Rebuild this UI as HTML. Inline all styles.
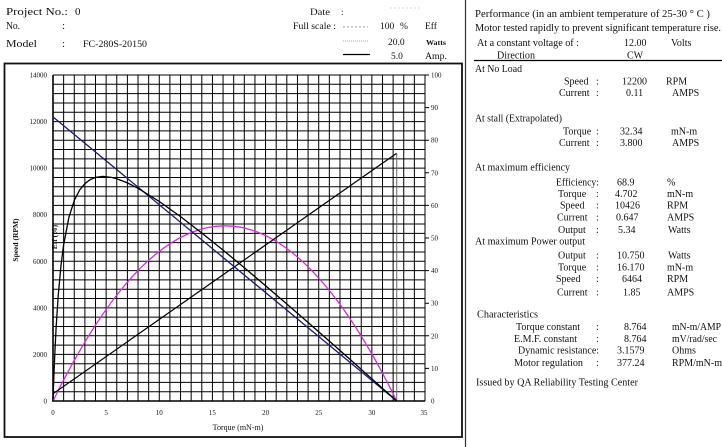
<!DOCTYPE html>
<html><head><meta charset="utf-8"><style>
html,body{margin:0;padding:0;background:#fff;}
svg{display:block;}
text{font-family:"Liberation Serif",serif;fill:#111;}
.s{font-size:10px;}
.t{font-size:7px;fill:#222;}
</style></head><body>
<svg width="722" height="447" viewBox="0 0 722 447" xmlns="http://www.w3.org/2000/svg">
<rect width="722" height="447" fill="#fff"/>
<!-- Header -->
<text x="6" y="15" font-size="11" textLength="62" lengthAdjust="spacingAndGlyphs">Project No.:</text>
<text x="75" y="15" font-size="11">0</text>
<text x="6" y="29" font-size="11" textLength="14" lengthAdjust="spacingAndGlyphs">No.</text>
<text x="62" y="29" font-size="11">:</text>
<text x="6" y="47" font-size="11" textLength="31" lengthAdjust="spacingAndGlyphs">Model</text>
<text x="62" y="47" font-size="11">:</text>
<text x="83" y="47" font-size="9.5" textLength="64" lengthAdjust="spacingAndGlyphs">FC-280S-20150</text>
<text x="310" y="15" font-size="9" textLength="20" lengthAdjust="spacingAndGlyphs">Date</text>
<text x="341" y="15" font-size="9">:</text>
<line x1="390" y1="8" x2="420" y2="8" stroke="#ddd" stroke-width="1" stroke-dasharray="2,2"/>
<text x="293" y="29" font-size="9" textLength="43" lengthAdjust="spacingAndGlyphs">Full scale :</text>
<line x1="343" y1="27" x2="368" y2="27" stroke="#999" stroke-width="1" stroke-dasharray="2,2"/>
<text x="380" y="29" font-size="9.5">100</text>
<text x="400" y="29" font-size="9.5">%</text>
<text x="425" y="29" font-size="9.5">Eff</text>
<line x1="343" y1="41" x2="368" y2="41" stroke="#aab" stroke-width="1" stroke-dasharray="1,1"/>
<text x="388" y="45" font-size="9.5">20.0</text>
<text x="426" y="45" font-size="7" font-weight="bold" textLength="20" lengthAdjust="spacingAndGlyphs">Watts</text>
<line x1="343" y1="54.5" x2="370" y2="54.5" stroke="#000" stroke-width="1.3"/>
<text x="391" y="59" font-size="9.5">5.0</text>
<text x="425" y="59" font-size="9.5" textLength="22" lengthAdjust="spacingAndGlyphs">Amp.</text>

<!-- separator -->
<line x1="465.5" y1="0" x2="465.5" y2="447" stroke="#333" stroke-width="1.2"/>
<!-- chart frame -->
<rect x="4.5" y="63.5" width="457.5" height="373.5" fill="none" stroke="#111" stroke-width="1.8"/>

<!-- grid -->
<g stroke="#000" stroke-width="1" fill="none">
<path d="M63.63 75V401M74.26 75V401M84.89 75V401M95.51 75V401M106.14 75V401M116.77 75V401M127.4 75V401M138.03 75V401M148.66 75V401M159.29 75V401M169.91 75V401M180.54 75V401M191.17 75V401M201.8 75V401M212.43 75V401M223.06 75V401M233.69 75V401M244.31 75V401M254.94 75V401M265.57 75V401M276.2 75V401M286.83 75V401M297.46 75V401M308.09 75V401M318.71 75V401M329.34 75V401M339.97 75V401M350.6 75V401M361.23 75V401M371.86 75V401M382.49 75V401M393.11 75V401M403.74 75V401M414.37 75V401M425 75V401"/>
<path d="M53 391.69H425M53 382.37H425M53 373.06H425M53 363.74H425M53 354.43H425M53 345.11H425M53 335.8H425M53 326.49H425M53 317.17H425M53 307.86H425M53 298.54H425M53 289.23H425M53 279.91H425M53 270.6H425M53 261.29H425M53 251.97H425M53 242.66H425M53 233.34H425M53 224.03H425M53 214.71H425M53 205.4H425M53 196.09H425M53 186.77H425M53 177.46H425M53 168.14H425M53 158.83H425M53 149.51H425M53 140.2H425M53 130.89H425M53 121.57H425M53 112.26H425M53 102.94H425M53 93.63H425M53 84.31H425M53 75H425"/>
</g>
<line x1="53" y1="75" x2="53" y2="401.5" stroke="#000" stroke-width="1.6"/>
<line x1="52" y1="401" x2="425" y2="401" stroke="#000" stroke-width="1.6"/>
<!-- right ticks -->
<g stroke="#000" stroke-width="1">
<path d="M425 368.4H429M425 335.8H429M425 303.2H429M425 270.6H429M425 238H429M425 205.4H429M425 172.8H429M425 140.2H429M425 107.6H429M425 75H429"/>
</g>

<!-- left tick labels -->
<g class="t" text-anchor="end">
<text x="47" y="403.5">0</text>
<text x="47" y="357">2000</text>
<text x="47" y="310.4">4000</text>
<text x="47" y="263.8">6000</text>
<text x="47" y="217.2">8000</text>
<text x="47" y="170.6">10000</text>
<text x="47" y="124">12000</text>
<text x="47" y="77.5">14000</text>
</g>
<!-- right tick labels -->
<g class="t">
<text x="431" y="403.5">0</text>
<text x="431" y="371">10</text>
<text x="431" y="338.3">20</text>
<text x="431" y="305.7">30</text>
<text x="431" y="273.1">40</text>
<text x="431" y="240.5">50</text>
<text x="431" y="207.9">60</text>
<text x="431" y="175.3">70</text>
<text x="431" y="142.7">80</text>
<text x="431" y="110.1">90</text>
<text x="431" y="77.5">100</text>
</g>
<!-- x tick labels -->
<g class="t" text-anchor="middle">
<text x="53" y="415">0</text>
<text x="106.1" y="415">5</text>
<text x="159.3" y="415">10</text>
<text x="212.4" y="415">15</text>
<text x="265.6" y="415">20</text>
<text x="318.7" y="415">25</text>
<text x="371.9" y="415">30</text>
<text x="424" y="415">35</text>
</g>
<text x="238" y="430" font-size="8" text-anchor="middle" fill="#222">Torque (mN-m)</text>
<text transform="translate(18,240) rotate(-90)" font-size="7.5" font-weight="bold" text-anchor="middle">Speed (RPM)</text>
<text transform="translate(57,237) rotate(-90)" font-size="7.5" font-weight="bold" text-anchor="middle">Eff (%)</text>

<!-- series -->
<!-- power (magenta) -->
<path d="M53 401 Q224.87 50.6 396.73 401" fill="none" stroke="#d52ed5" stroke-width="1.3"/>
<!-- current -->
<line x1="53" y1="393.8" x2="396.73" y2="153.2" stroke="#000" stroke-width="1.2"/>
<line x1="396.73" y1="153.2" x2="396.73" y2="401" stroke="#666" stroke-width="1"/>
<!-- speed -->
<line x1="53" y1="116.9" x2="396.73" y2="401" stroke="#1c1c78" stroke-width="1.3"/>
<!-- efficiency -->
<polyline fill="none" stroke="#000" stroke-width="1.3" points="53,401 54.06,371.3 55.13,346.9 56.19,326.5 58.31,294.5 60.97,265.6 63.63,244.7 68.94,217.2 74.26,200.5 79.57,190.1 84.89,183.6 90.2,179.6 95.51,177.4 102.96,176.4 111.46,177.4 116.77,178.8 127.4,182.9 138.03,188.3 159.29,201.5 180.54,216.6 201.8,233 223.06,250.1 244.31,267.7 265.57,285.7 286.83,304 308.09,322.5 329.34,341.1 350.6,359.9 371.86,378.8 396.73,401"/>

<!-- Right panel -->
<g class="s">
<text x="475" y="17" textLength="235" lengthAdjust="spacingAndGlyphs">Performance (in an ambient temperature of 25-30 ° C )</text>
<text x="475" y="31" textLength="246" lengthAdjust="spacingAndGlyphs">Motor tested rapidly to prevent significant temperature rise.</text>
<text x="477" y="46" textLength="102" lengthAdjust="spacingAndGlyphs">At a constant voltage of :</text>
<text x="624" y="46">12.00</text>
<text x="671" y="46">Volts</text>
<text x="497" y="58.5" textLength="38" lengthAdjust="spacingAndGlyphs">Direction</text>
<text x="627" y="58.5">CW</text>
</g>
<line x1="474" y1="60.5" x2="722" y2="60.5" stroke="#000" stroke-width="1.2"/>
<g class="s">
<text x="475" y="72" textLength="47" lengthAdjust="spacingAndGlyphs">At No Load</text>
<text x="564" y="84.5">Speed</text><text x="596" y="84.5">:</text><text x="622" y="84.5">12200</text><text x="666" y="84.5">RPM</text>
<text x="559" y="96">Current</text><text x="596" y="96">:</text><text x="626" y="96">0.11</text><text x="672" y="96">AMPS</text>

<text x="475" y="121.5" textLength="87" lengthAdjust="spacingAndGlyphs">At stall (Extrapolated)</text>
<text x="563" y="134.5">Torque</text><text x="596" y="134.5">:</text><text x="620" y="134.5">32.34</text><text x="671" y="134.5">mN-m</text>
<text x="559" y="146">Current</text><text x="596" y="146">:</text><text x="620" y="146">3.800</text><text x="672" y="146">AMPS</text>

<text x="475" y="170.5" textLength="95" lengthAdjust="spacingAndGlyphs">At maximum efficiency</text>
<text x="556" y="185.5" textLength="43" lengthAdjust="spacingAndGlyphs">Efficiency:</text><text x="617" y="185.5">68.9</text><text x="667" y="185.5">%</text>
<text x="558" y="197">Torque</text><text x="596" y="197">:</text><text x="615" y="197">4.702</text><text x="667" y="197">mN-m</text>
<text x="560" y="208.5">Speed</text><text x="596" y="208.5">:</text><text x="615" y="208.5">10426</text><text x="667" y="208.5">RPM</text>
<text x="557" y="220.5">Current</text><text x="596" y="220.5">:</text><text x="616" y="220.5">0.647</text><text x="667" y="220.5">AMPS</text>
<text x="558" y="233">Output</text><text x="596" y="233">:</text><text x="618" y="233">5.34</text><text x="668" y="233">Watts</text>
<text x="475" y="244.5" textLength="110" lengthAdjust="spacingAndGlyphs">At maximum Power output</text>
<text x="558" y="258.5">Output</text><text x="596" y="258.5">:</text><text x="617" y="258.5">10.750</text><text x="668" y="258.5">Watts</text>
<text x="558" y="270.5">Torque</text><text x="596" y="270.5">:</text><text x="617" y="270.5">16.170</text><text x="667" y="270.5">mN-m</text>
<text x="556" y="282">Speed</text><text x="596" y="282">:</text><text x="622" y="282">6464</text><text x="667" y="282">RPM</text>
<text x="557" y="295.5">Current</text><text x="596" y="295.5">:</text><text x="623" y="295.5">1.85</text><text x="667" y="295.5">AMPS</text>

<text x="477" y="317.5" textLength="61" lengthAdjust="spacingAndGlyphs">Characteristics</text>
<text x="516" y="330" textLength="64" lengthAdjust="spacingAndGlyphs">Torque constant</text><text x="596" y="330">:</text><text x="624" y="330">8.764</text><text x="672" y="330" textLength="49" lengthAdjust="spacingAndGlyphs">mN-m/AMP</text>
<text x="514" y="342" textLength="63" lengthAdjust="spacingAndGlyphs">E.M.F. constant</text><text x="596" y="342">:</text><text x="624" y="342">8.764</text><text x="672" y="342" textLength="45" lengthAdjust="spacingAndGlyphs">mV/rad/sec</text>
<text x="518" y="353.5" textLength="81" lengthAdjust="spacingAndGlyphs">Dynamic resistance:</text><text x="617" y="353.5">3.1579</text><text x="672" y="353.5">Ohms</text>
<text x="514" y="366" textLength="69" lengthAdjust="spacingAndGlyphs">Motor regulation</text><text x="596" y="366">:</text><text x="617" y="366">377.24</text><text x="672" y="366" textLength="50" lengthAdjust="spacingAndGlyphs">RPM/mN-m</text>

<text x="476" y="385.5" textLength="162" lengthAdjust="spacingAndGlyphs">Issued by QA Reliability Testing  Center</text>
</g>
</svg>
</body></html>
